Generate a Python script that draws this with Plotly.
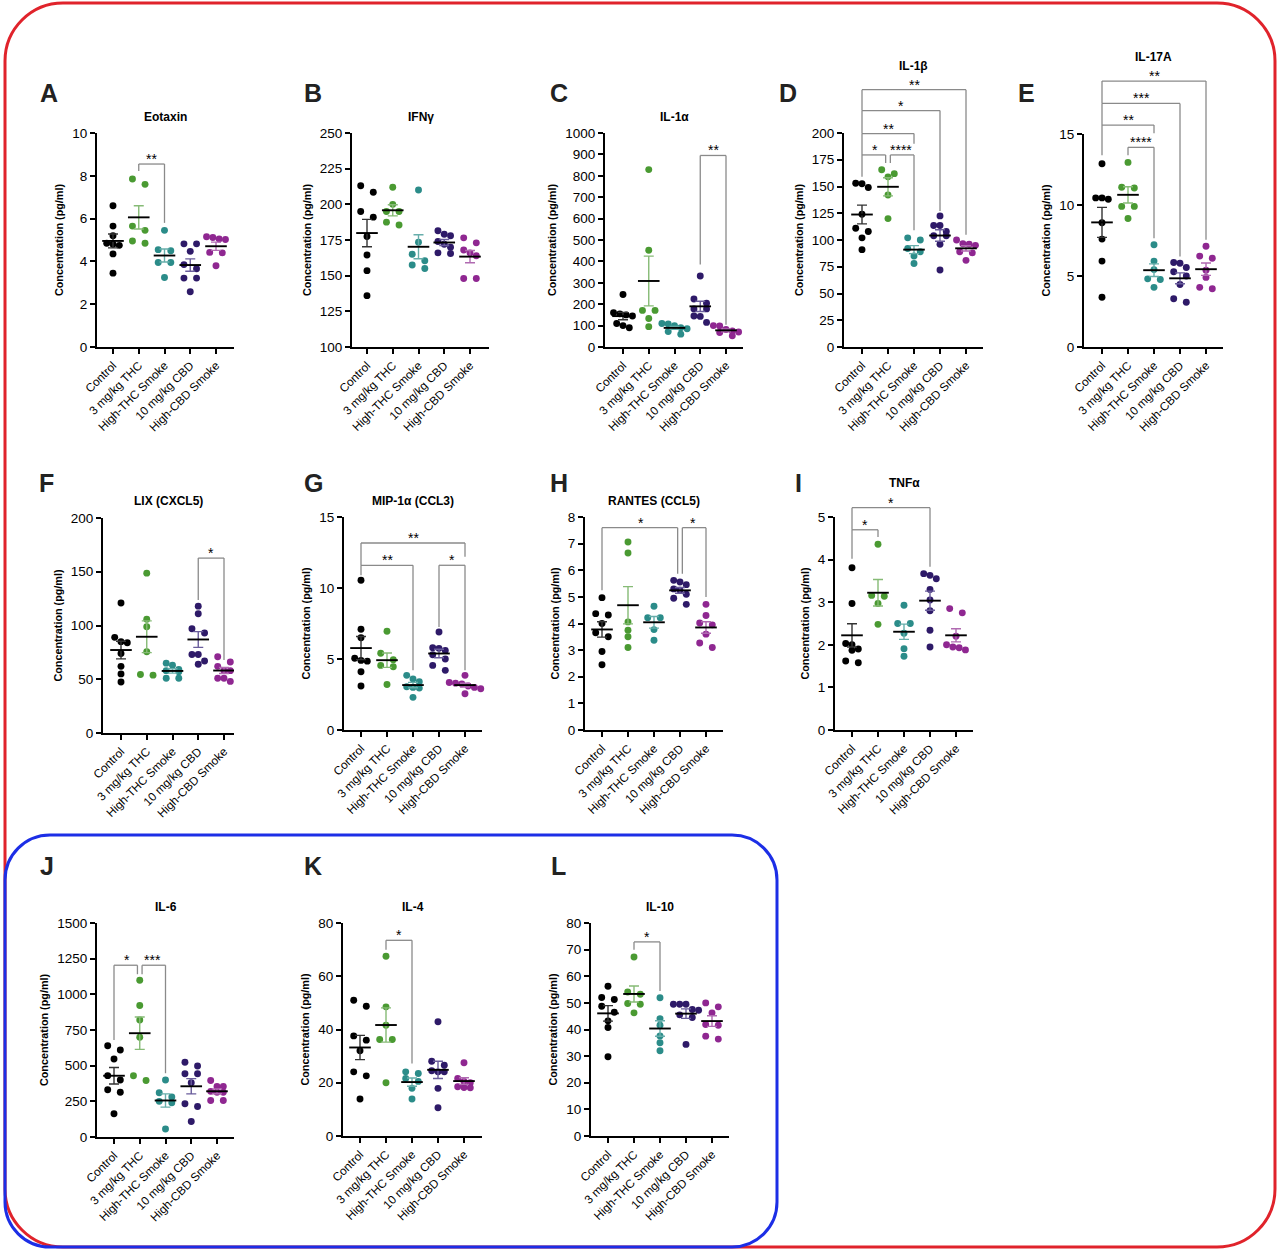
import plotly.graph_objects as go
import numpy as np

W, H = 1280, 1251

GROUPS = ["Control", "3 mg/kg THC", "High-THC Smoke", "10 mg/kg CBD", "High-CBD Smoke"]
COLORS = ["#000000", "#4a9a32", "#2b8c89", "#2e1a68", "#8f2791"]
ERR_COLORS = ["#333333", "#86bb76", "#67aeab", "#6a5d9c", "#b06ab1"]

# ---- data (pg/ml), one list per group: Control, THC, High-THC Smoke, CBD, High-CBD Smoke
eotaxin = [
    [6.6, 5.65, 5.2, 4.85, 4.8, 4.75, 4.35, 3.45],
    [7.85, 7.6, 5.65, 5.45, 4.95, 4.85],
    [5.45, 4.55, 4.5, 3.95, 3.95, 3.25],
    [4.82, 4.82, 4.47, 3.85, 3.66, 3.22, 3.22, 2.58],
    [5.15, 5.12, 5.05, 5.02, 4.42, 4.40, 3.8],
]
ifng = [
    [213, 208.5, 195, 191, 177.5, 164.5, 153.5, 136],
    [212, 200, 195, 195, 187.5, 185.5],
    [210, 173.5, 165, 160.5, 157.5, 155],
    [181.5, 179, 178, 174, 172, 170, 166, 165.5],
    [176.5, 173, 168, 166, 164, 148, 148],
]
il1a = [
    [245, 160, 155, 150, 145, 110, 100, 90],
    [829, 452, 171, 171, 133, 95],
    [110, 108, 100, 90, 85, 72, 60],
    [332, 224, 205, 178, 178, 145, 143, 115],
    [100, 98, 82, 75, 70, 68, 52],
]
il1b = [
    [153, 152.5, 149, 124, 111, 108, 102, 91],
    [165.6, 162, 159, 142, 120],
    [102, 100, 92, 89, 85, 78],
    [122.5, 113.5, 113.5, 108, 104, 104, 96, 72],
    [100, 96.5, 96, 95, 89, 88, 81],
]
il17a = [
    [12.9, 10.5, 10.5, 10.4, 8.75, 7.6, 6.05, 3.5],
    [13.0, 11.25, 11.2, 9.9, 9.9, 9.05],
    [7.2, 6.05, 5.45, 4.8, 4.75, 4.2],
    [5.95, 5.9, 5.6, 5.3, 5.0, 4.4, 3.4, 3.15],
    [7.1, 6.4, 6.25, 5.4, 4.9, 4.2, 4.1],
]
lix = [
    [121, 89, 85, 84, 74, 62, 55, 47.5],
    [148.7, 105.8, 98.9, 75.6, 54.4, 53.8],
    [65, 63, 59, 58, 57, 51, 51],
    [118, 111, 97, 93, 73, 73, 67, 64],
    [71, 66, 62, 58, 58, 51, 51, 48],
]
mip1a = [
    [10.55, 7.1, 6.5, 5.05, 4.9, 4.85, 4.1, 3.1],
    [6.95, 5.4, 4.95, 4.55, 4.45, 3.2],
    [3.85, 3.6, 3.4, 3.05, 3.0, 2.95, 2.3],
    [6.9, 5.8, 5.75, 5.6, 5.3, 5.0, 4.55, 4.2],
    [3.85, 3.35, 3.3, 3.25, 3.1, 3.0, 2.9, 2.55],
]
rantes = [
    [4.97, 4.37, 4.32, 4.0, 3.65, 3.5, 2.95, 2.45],
    [7.06, 6.65, 4.06, 3.75, 3.5, 3.1],
    [4.65, 4.22, 4.22, 3.77, 3.37],
    [5.62, 5.56, 5.46, 5.3, 5.25, 5.1, 4.95, 4.72],
    [4.72, 4.3, 4.02, 3.95, 3.6, 3.27, 3.1],
]
tnfa = [
    [3.81, 2.97, 2.03, 2.0, 1.9, 1.87, 1.62, 1.58],
    [4.36, 3.16, 3.14, 2.97, 2.48],
    [2.93, 2.5, 2.5, 2.27, 1.91, 1.73],
    [3.67, 3.63, 3.55, 3.3, 3.05, 2.8, 2.34, 1.95],
    [2.85, 2.75, 2.2, 2.0, 1.95, 1.93, 1.88],
]
il6 = [
    [640, 610, 547, 430, 400, 331, 314, 163],
    [1099, 922, 820, 699, 429, 396],
    [400, 310, 280, 250, 240, 56],
    [524, 498, 443, 443, 380, 233, 214, 109],
    [396, 354, 354, 320, 314, 314, 256, 256],
]
il4 = [
    [51, 48.75, 37.6, 36, 32, 24.1, 22.6, 13.9],
    [67.5, 48.5, 41.6, 36.25, 36.25, 20],
    [24.1, 23.5, 21.6, 20.5, 17.9, 13.9],
    [42.9, 28.1, 26.6, 24.5, 24.1, 24.1, 17.9, 10.6],
    [27.5, 21.6, 20.5, 20, 18.5, 18.2, 18.1],
]
il10 = [
    [56.25, 52, 51.25, 48.75, 46.5, 43.25, 40.75, 29.75],
    [67.25, 54.1, 53.25, 49.75, 49.5, 46.25],
    [51.9, 44.1, 41.6, 37.6, 35, 32],
    [49.5, 49.5, 49.5, 47.5, 47.25, 45.5, 44.5, 34.4],
    [50, 48.5, 46.25, 41.9, 41.6, 37.5, 36.4],
]

# significance brackets: (group i, group j, label, top value, left leg end, right leg end)
brackets = {
    "A": [(1, 2, "**", 8.55, 8.23, 5.8)],
    "C": [(3, 4, "**", 895, 385, 104)],
    "D": [(0, 1, "*", 179.5, 159, 172), (1, 2, "****", 179.5, 172, 109),
          (0, 2, "**", 199.5, 179.5, 190), (0, 3, "*", 221, 199.5, 127),
          (0, 4, "**", 240.5, 221, 105)],
    "E": [(1, 2, "****", 14.06, 13.5, 7.66), (0, 2, "**", 15.63, 13.5, 15.05),
          (0, 3, "***", 17.15, 15.63, 6.37), (0, 4, "**", 18.73, 17.15, 7.55)],
    "F": [(3, 4, "*", 162.7, 123.8, 67.8)],
    "G": [(0, 2, "**", 11.6, 10.9, 4.2), (3, 4, "*", 11.6, 7.26, 4.2),
          (0, 4, "**", 13.17, 11.6, 12.2)],
    "H": [(0, 3, "*", 7.6, 5.25, 5.87), (3, 4, "*", 7.6, 5.87, 5.0)],
    "I": [(0, 1, "*", 4.7, 4.02, 4.53), (0, 3, "*", 5.22, 4.7, 3.83)],
    "J": [(0, 1, "*", 1204, 680, 1141), (1, 2, "***", 1204, 1141, 447)],
    "K": [(1, 2, "*", 73.5, 70, 27.25)],
    "L": [(1, 2, "*", 72.9, 70, 54.5)],
}

# panel layout (pixel frame)
PANELS = [
    ("A", "Eotaxin", eotaxin, (0, 10), 2, 97, 234, 133, 347, 113, 216, 117, 38, 93),
    ("B", "IFNγ", ifng, (100, 250), 25, 352, 489, 133, 347, 367, 470, 117, 302, 93),
    ("C", "IL-1α", il1a, (0, 1000), 100, 605, 743, 133, 347, 623, 726, 117, 548, 93),
    ("D", "IL-1β", il1b, (0, 200), 25, 844, 983, 133, 347, 862, 966, 66, 777, 93),
    ("E", "IL-17A", il17a, (0, 15), 5, 1084, 1223, 134, 347, 1102, 1206, 57, 1016, 93),
    ("F", "LIX (CXCL5)", lix, (0, 200), 50, 103, 234, 518, 733, 121, 224, 501, 37, 483),
    ("G", "MIP-1α (CCL3)", mip1a, (0, 15), 5, 344, 482, 517, 730, 361, 465, 501, 302, 483),
    ("H", "RANTES (CCL5)", rantes, (0, 8), 1, 585, 723, 517, 730, 602, 706, 501, 548, 483),
    ("I", "TNFα", tnfa, (0, 5), 1, 835, 973, 517, 730, 852, 956, 483, 793, 483),
    ("J", "IL-6", il6, (0, 1500), 250, 97, 234, 923, 1137, 114, 217, 907, 38, 866),
    ("K", "IL-4", il4, (0, 80), 20, 343, 482, 923, 1136, 360, 464, 907, 302, 866),
    ("L", "IL-10", il10, (0, 80), 10, 591, 729, 923, 1136, 608, 712, 907, 549, 866),
]

FONT = "Liberation Sans, Arial, Helvetica, sans-serif"


def fx(px):
    return px / W


def fy(py):
    return 1 - py / H


def swarm(vals, ppu, step, thresh_px=6.5):
    order = sorted(range(len(vals)), key=lambda i: -vals[i])
    rows = []
    for i in order:
        if rows and (vals[rows[-1][0]] - vals[i]) * ppu < thresh_px:
            rows[-1].append(i)
        else:
            rows.append([i])
    offs = [0.0] * len(vals)
    for row in rows:
        n = len(row)
        pos = [-1, 1] if n == 2 else [k - (n - 1) / 2 for k in range(n)]
        for idx, p in zip(row, pos):
            offs[idx] = p * step
    return offs


fig = go.Figure()
shapes = []
annotations = []

for k, (letter, title, data, yr, ystep, x0, x1, yt, yb, cpx, lpx, ty, lx, ly) in enumerate(PANELS):
    n = k + 1
    xa = "x" if n == 1 else f"x{n}"
    ya = "y" if n == 1 else f"y{n}"
    sp = (lpx - cpx) / 4.0
    xr = [-(cpx - x0) / sp, (x1 - cpx) / sp]
    ppu = (yb - yt) / (yr[1] - yr[0])
    step = 6.3 / sp
    half = 10.8 / sp

    for g in range(5):
        vals = data[g]
        offs = swarm(vals, ppu, step)
        fig.add_trace(go.Scatter(
            x=[g + o for o in offs], y=vals, mode="markers",
            marker=dict(color=COLORS[g], size=6.9, line=dict(width=0)),
            xaxis=xa, yaxis=ya, hoverinfo="skip", showlegend=False, cliponaxis=False))
        arr = np.array(vals, dtype=float)
        mean = arr.mean()
        sem = arr.std(ddof=1) / np.sqrt(len(arr))
        fig.add_trace(go.Scatter(
            x=[g], y=[mean], mode="markers", marker=dict(size=2, opacity=0),
            error_y=dict(type="data", array=[sem], color=ERR_COLORS[g], thickness=1.4, width=5),
            xaxis=xa, yaxis=ya, hoverinfo="skip", showlegend=False, cliponaxis=False))
        fig.add_trace(go.Scatter(
            x=[g - half, g + half], y=[mean, mean], mode="lines",
            line=dict(color="black", width=1.9),
            xaxis=xa, yaxis=ya, hoverinfo="skip", showlegend=False, cliponaxis=False))

    xkey = "xaxis" if n == 1 else f"xaxis{n}"
    ykey = "yaxis" if n == 1 else f"yaxis{n}"
    fig.update_layout(**{
        xkey: dict(domain=[fx(x0), fx(x1)], range=xr, anchor=ya, tickmode="array",
                   tickvals=list(range(5)), ticktext=GROUPS, tickangle=-45,
                   ticks="outside", ticklen=5, tickwidth=1.8, tickcolor="black",
                   showline=True, linewidth=2, linecolor="black", showgrid=False,
                   zeroline=False, fixedrange=True, automargin=False,
                   tickfont=dict(family=FONT, size=11.8, color="black")),
        ykey: dict(domain=[fy(yb), fy(yt)], range=list(yr), anchor=xa, tickmode="array",
                   tickvals=list(np.arange(yr[0], yr[1] + ystep * 0.5, ystep)),
                   ticks="outside", ticklen=5, tickwidth=1.8, tickcolor="black",
                   showline=True, linewidth=2, linecolor="black", showgrid=False,
                   zeroline=False, fixedrange=True, automargin=False,
                   tickfont=dict(family=FONT, size=13.5, color="black"),
                   title=dict(text="<b>Concentration (pg/ml)</b>", standoff=6,
                              font=dict(family=FONT, size=10.8, color="black"))),
    })

    annotations.append(dict(xref="paper", yref="paper", x=fx((x0 + x1) / 2), y=fy(ty),
                            text=f"<b>{title}</b>", showarrow=False, xanchor="center",
                            yanchor="middle", font=dict(family=FONT, size=12, color="black")))
    annotations.append(dict(xref="paper", yref="paper", x=fx(lx), y=fy(ly),
                            text=f"<b>{letter}</b>", showarrow=False, xanchor="left",
                            yanchor="middle", font=dict(family=FONT, size=25, color="#222222")))

    bl = brackets.get(letter, [])
    dxf = lambda v: (v - xr[0]) / (xr[1] - xr[0])
    dyf = lambda v: (v - yr[0]) / (yr[1] - yr[0])
    for (i, j, lab, top, lbot, rbot) in bl:
        li, rj = float(i), float(j)
        for (i2, j2, _, top2, _, _) in bl:
            if top2 == top and j2 == i:
                li += 0.09
            if top2 == top and i2 == j:
                rj -= 0.09
        xref = f"{xa} domain"
        yref = f"{ya} domain"
        segs = [(li, lbot, li, top), (li, top, rj, top), (rj, top, rj, rbot)]
        for (a, b, c, d) in segs:
            shapes.append(dict(type="line", xref=xref, yref=yref,
                               x0=dxf(a), y0=dyf(b), x1=dxf(c), y1=dyf(d),
                               line=dict(color="#8a8a8a", width=1.3)))
        annotations.append(dict(xref=xref, yref=yref, x=dxf((i + j) / 2), y=dyf(top),
                                text=lab, showarrow=False, xanchor="center", yanchor="bottom",
                                yshift=-5, font=dict(family=FONT, size=14, color="black")))


def rrect(x0, y0, x1, y1, r):
    kk = 0.5523 * r
    P = lambda x, y: f"{fx(x):.5f},{fy(y):.5f}"
    return (f"M {P(x0 + r, y0)} L {P(x1 - r, y0)} "
            f"C {P(x1 - r + kk, y0)} {P(x1, y0 + r - kk)} {P(x1, y0 + r)} "
            f"L {P(x1, y1 - r)} "
            f"C {P(x1, y1 - r + kk)} {P(x1 - r + kk, y1)} {P(x1 - r, y1)} "
            f"L {P(x0 + r, y1)} "
            f"C {P(x0 + r - kk, y1)} {P(x0, y1 - r + kk)} {P(x0, y1 - r)} "
            f"L {P(x0, y0 + r)} "
            f"C {P(x0, y0 + r - kk)} {P(x0 + r - kk, y0)} {P(x0 + r, y0)} Z")


shapes.append(dict(type="path", xref="paper", yref="paper", path=rrect(5, 3, 1275, 1247, 58),
                   line=dict(color="#e0232b", width=3), layer="above"))
shapes.append(dict(type="path", xref="paper", yref="paper", path=rrect(5, 835, 777, 1247, 45),
                   line=dict(color="#1c2ee6", width=3), layer="above"))

fig.update_layout(width=W, height=H, margin=dict(l=0, r=0, t=0, b=0, pad=0, autoexpand=False),
                  paper_bgcolor="white", plot_bgcolor="white",
                  font=dict(family=FONT, color="black"),
                  shapes=shapes, annotations=annotations, showlegend=False)

fig.write_html("out.html", config={"responsive": False, "displayModeBar": False},
               post_script="document.body.style.margin='0';document.body.style.overflow='hidden';")
